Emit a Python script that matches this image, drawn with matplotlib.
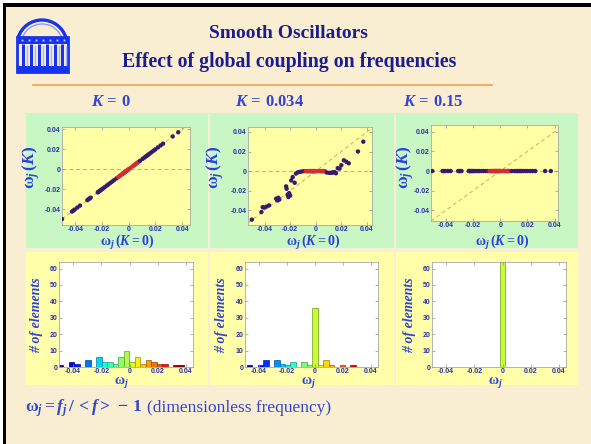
import numpy as np
import matplotlib
matplotlib.use("Agg")
import matplotlib.pyplot as plt
from matplotlib import patches, colors as mcolors

W, H = 591, 444

# dimensionless frequencies of the 64 oscillators without coupling
omega_free = [-0.0500, -0.0425, -0.0415, -0.0405, -0.0385, -0.0365,
              -0.0310, -0.0300, -0.0293, -0.0285,
              -0.0232, -0.0228, -0.0220, -0.0214, -0.0208, -0.0200,
              -0.0192, -0.0180, -0.0165, -0.0155, -0.0140, -0.0125,
              -0.0110, -0.0092,
              -0.0078, -0.0070, -0.0064, -0.0058, -0.0050, -0.0043,
              -0.0040, -0.0036, -0.0031, -0.0027, -0.0023, -0.0019,
              -0.0014, -0.0010, -0.0006, -0.0003,
              0.0002, 0.0014, 0.0030,
              0.0040, 0.0046, 0.0052, 0.0058, 0.0064, 0.0072,
              0.0085, 0.0105, 0.0118, 0.0128, 0.0138, 0.0148,
              0.0158, 0.0172, 0.0186, 0.0200, 0.0220, 0.0240, 0.0258,
              0.0330, 0.0372]

# same oscillators with K = 0.034 (partial locking around zero)
omega_k034 = [-0.0495, -0.0418, -0.0368, -0.0372, -0.0362, -0.0350,
              -0.0282, -0.0300, -0.0272, -0.0290,
              -0.0156, -0.0180, -0.0241, -0.0265, -0.0225, -0.0250,
              -0.0095, -0.0061, -0.0119, -0.0025, -0.0012, -0.0008,
              -0.0004, 0.0,
              0.0, 0.0, 0.0, 0.0, 0.0, 0.0,
              0.0, 0.0, 0.0, 0.0, 0.0, 0.0,
              0.0, 0.0, 0.0, 0.0,
              0.0, 0.0, 0.0,
              0.0, 0.0, 0.0, 0.0, 0.0, 0.0,
              -0.0015, -0.0018, -0.0018, -0.0015, -0.0012, -0.0010,
              -0.0022, 0.0030, 0.0025, 0.0060, 0.0110, 0.0095, 0.0080,
              0.0200, 0.0300]

# K = 0.15: everything locked to the mean frequency
omega_k015 = [0.0] * len(omega_free)

# histograms of the frequencies (bin centres / counts)
hist_k0_centers = [-0.0490, -0.0412, -0.0373, -0.0295, -0.0217, -0.0178,
                   -0.0139, -0.0100, -0.0061, -0.0022, 0.0017, 0.0056,
                   0.0095, 0.0134, 0.0173, 0.0212, 0.0251, 0.0329, 0.0368]
hist_k0_counts = [1, 3, 2, 4, 6, 3, 3, 2, 6, 10, 3, 6, 2, 4, 3, 2, 2, 1, 1]

hist_k034_centers = [-0.0468, -0.0390, -0.0351, -0.0273, -0.0234, -0.0195,
                     -0.0156, -0.0078, -0.0039, 0.0, 0.0039, 0.0078,
                     0.0117, 0.0195, 0.0273]
hist_k034_counts = [1, 1, 4, 4, 2, 1, 3, 3, 1, 36, 1, 4, 1, 1, 1]

hist_k015_centers = [0.0]
hist_k015_counts = [64]

k_labels = [r"$K\,=\,0$", r"$K\,=\,0.034$", r"$K\,=\,0.15$"]
freq_ticks = [-0.04, -0.02, 0, 0.02, 0.04]
freq_ticklabels = ["-0.04", "-0.02", "0", "0.02", "0.04"]
count_ticks = [0, 10, 20, 30, 40, 50, 60]

plt.rcParams["mathtext.fontset"] = "custom"
plt.rcParams["mathtext.rm"] = "Liberation Serif:bold"
plt.rcParams["mathtext.it"] = "Liberation Serif:italic:bold"
plt.rcParams["mathtext.bf"] = "Liberation Serif:bold"

BEIGE = "#FAEED2"
GREEN = "#C8F7C4"
YELLOW = "#FFFFAA"
NAVY = "#1C1C8E"
BLUE = "#3344D0"
LABEL_BLUE = "#2B3FE0"
TICK_BLUE = "#2B2FA8"

fig = plt.figure(figsize=(W / 100, H / 100), dpi=100, facecolor=BEIGE)

# full-figure axes in pixel units for the slide decoration
bg = fig.add_axes([0, 0, 1, 1])
bg.set_xlim(0, W)
bg.set_ylim(H, 0)
bg.axis("off")

# white margin + black frame on top and left
bg.add_patch(patches.Rectangle((0, 0), W, 3, color="white", lw=0))
bg.add_patch(patches.Rectangle((0, 0), 3, H, color="white", lw=0))
bg.add_patch(patches.Rectangle((3, 3), W, 4, color="black", lw=0))
bg.add_patch(patches.Rectangle((3, 3), 3, H, color="black", lw=0))

# rotunda logo
logo = "#1733EE"
bg.add_patch(patches.Arc((42, 45), 50, 50, theta1=197, theta2=343, color=logo, lw=2.4))
bg.add_patch(patches.Arc((42, 45), 42, 42, theta1=203, theta2=337, color="#8C9CF8", lw=1.0))
bg.add_patch(patches.Rectangle((17, 37), 51, 35, fill=False, ec=logo, lw=2.0))
bg.add_patch(patches.Rectangle((17, 37), 51, 7, color=logo, lw=0))
bg.add_patch(patches.Rectangle((17, 66), 51, 6, color=logo, lw=0))
for cx in [23, 31, 39, 47, 55, 62]:
    bg.plot([cx, cx], [44, 66], color=logo, lw=2.2, solid_capstyle="butt")
    bg.plot([cx + 3.5, cx + 3.5], [46, 65], color="#A8B4FA", lw=1.0)
for cx in [22, 29, 36, 43, 50, 57, 64]:
    bg.plot(cx, 40.5, "s", color="#C8D0FF", ms=1.3, mew=0)

# title and separator
bg.text(288, 34, "Smooth Oscillators", ha="center", va="center",
        family="Liberation Serif", weight="bold", size=14, color=NAVY)
bg.text(289, 62, "Effect of global coupling on frequencies", ha="center", va="center",
        family="Liberation Serif", weight="bold", size=14.3, color=NAVY)
bg.plot([33, 492], [85, 85], color="#F5A04A", lw=1.2)

for cx, lab in zip([111, 270, 433], k_labels):
    bg.text(cx, 101, lab, ha="center", va="center", size=12, color=BLUE)

# coloured panels behind the plots
col_x = [(26, 208), (210, 394), (396, 578)]
for x0, x1 in col_x:
    bg.add_patch(patches.Rectangle((x0, 113), x1 - x0, 135, color=GREEN, lw=0))
    bg.add_patch(patches.Rectangle((x0, 252), x1 - x0, 133, color=YELLOW, lw=0))


def px_axes(x0, y0, x1, y1):
    return fig.add_axes([x0 / W, 1 - y1 / H, (x1 - x0) / W, (y1 - y0) / H])


def style_axes(ax, face):
    ax.set_facecolor(face)
    for sp in ax.spines.values():
        sp.set_color("#A8A8A8")
        sp.set_linewidth(0.6)
    ax.tick_params(direction="in", length=2, width=0.5, color="#909090",
                   top=True, right=True, pad=1.0, labelsize=5,
                   labelcolor=TICK_BLUE)
    ax.tick_params(axis="x", pad=0.5)
    for lab in ax.get_xticklabels() + ax.get_yticklabels():
        lab.set_family("Liberation Sans")
        lab.set_weight("bold")


scatter_boxes = [(62, 127, 190, 225), (248, 127, 372, 225), (431, 125, 558, 221)]
scatter_xlims = [(-0.05, 0.046), (-0.053, 0.044), (-0.051, 0.0425)]
scatter_ylims = [(-0.056, 0.0425), (-0.055, 0.045), (-0.051, 0.047)]
coupled = [omega_free, omega_k034, omega_k015]

free = np.array(omega_free)
pt_colors = np.where(np.abs(free) < 0.008, "#D42A3A", "#3B1870")

for i in range(3):
    ax = px_axes(*scatter_boxes[i])
    ax.axhline(0, color="#E8A060", ls=(0, (4, 3)), lw=0.7, zorder=1)
    ax.axline((0, 0), slope=1, color="#E8A060", ls=(0, (4, 3)), lw=0.7, zorder=1)
    ax.scatter(omega_free, coupled[i], s=10, c=pt_colors, linewidths=0, zorder=3)
    ax.set_xlim(*scatter_xlims[i])
    ax.set_ylim(*scatter_ylims[i])
    ax.set_xticks(freq_ticks)
    ax.set_xticklabels(freq_ticklabels)
    ax.set_yticks(freq_ticks)
    ax.set_yticklabels(freq_ticklabels)
    style_axes(ax, "#FFFFA5")

hist_boxes = [(59, 262, 193, 367), (245, 262, 378, 367), (432, 262, 566, 367)]
hist_centers = [hist_k0_centers, hist_k034_centers, hist_k015_centers]
hist_counts = [hist_k0_counts, hist_k034_counts, hist_k015_counts]
norm = mcolors.Normalize(-0.05, 0.035)
jet = plt.get_cmap("jet")

for i in range(3):
    ax = px_axes(*hist_boxes[i])
    fc = jet(norm(np.array(hist_centers[i])))
    ec = fc.copy()
    ec[:, :3] *= 0.6
    ax.bar(hist_centers[i], hist_counts[i], width=0.0039, color=fc,
           edgecolor=ec, linewidth=0.5)
    ax.set_xlim(-0.05, 0.045)
    ax.set_ylim(0, 64)
    ax.set_xticks(freq_ticks)
    ax.set_xticklabels(freq_ticklabels)
    ax.set_yticks(count_ticks)
    style_axes(ax, "white")

# axis titles, drawn in slide pixel positions
for x in [31, 215, 405]:
    bg.text(x, 167, r"$\mathrm{\omega}_j\,(K)$", rotation=90, ha="center",
            va="center", size=12.5, color=LABEL_BLUE)
for x in [127, 313, 502]:
    bg.text(x, 242, r"$\mathrm{\omega}_j\,(K = 0)$", ha="center", va="center",
            size=10, color=LABEL_BLUE)
for x in [37, 222, 410]:
    bg.text(x, 315, "# of elements", rotation=90, ha="center", va="center",
            family="Liberation Serif", style="italic", weight="bold",
            size=10, color=BLUE)
for x in [121, 308, 495]:
    bg.text(x, 382, r"$\mathrm{\omega}_j$", ha="center", va="center",
            size=10, color=LABEL_BLUE)

# definition line at the bottom
formula = bg.text(25, 408, r"$\mathrm{\omega}_j = f_j\,/\,<f>\,-\,1$",
                  ha="left", va="center", size=12.5, color=BLUE)
fig.canvas.draw()
bb = formula.get_window_extent(fig.canvas.get_renderer())
bg.text(bb.x1 + 5, 408, "(dimensionless frequency)", ha="left", va="center",
        family="Liberation Serif", size=12.5, color=BLUE)

fig.savefig("out.png", dpi=100, facecolor=BEIGE)
